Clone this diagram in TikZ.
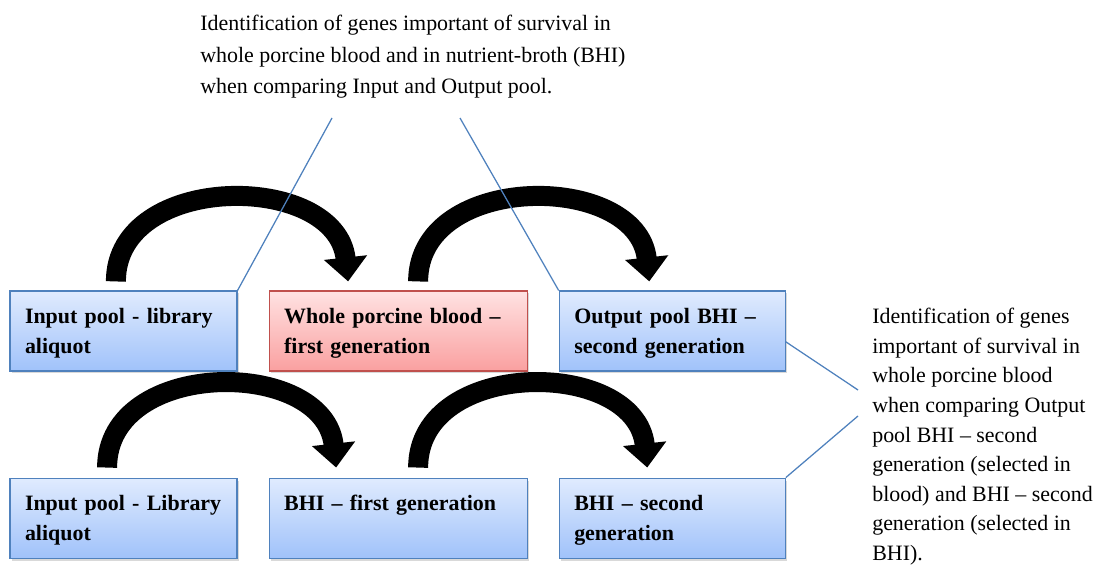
\documentclass[tikz,border=0pt]{standalone}
\usepackage{fontspec}
\setmainfont{Liberation Serif}
\usetikzlibrary{arrows.meta, positioning, shadows}
\definecolor{boxline}{RGB}{79,129,189}
\definecolor{boxtop}{RGB}{224,235,254}
\definecolor{boxbot}{RGB}{160,194,250}
\definecolor{redline}{RGB}{192,80,77}
\definecolor{redtop}{RGB}{255,226,226}
\definecolor{redbot}{RGB}{250,160,160}
\definecolor{callout}{RGB}{79,129,189}
\newcommand{\celltext}[1]{\vbox to 1.15cm{#1\vfill}}
\tikzset{
  stagebox/.style={rectangle, draw=boxline, top color=boxtop, bottom color=boxbot,
    line width=0.8pt, inner xsep=0.375cm, inner ysep=0.425cm,
    text width=4.925cm, align=left,
    font=\fontsize{15.6pt}{21.3pt}\selectfont\bfseries,
    drop shadow={shadow xshift=0.04cm, shadow yshift=-0.06cm, opacity=0.3}},
  redbox/.style={stagebox, draw=redline, top color=redtop, bottom color=redbot,
    text width=5.7cm},
  bigarrow/.style={line width=0.5cm, -{Triangle[width=1.05cm, length=0.6cm]}},
  callline/.style={draw=callout, line width=0.9pt},
  note/.style={inner sep=0pt, align=left, anchor=north west}
}
\begin{document}
\begin{tikzpicture}
  \useasboundingbox (0,0) rectangle (27.875,-14.175);

  % stages
  \node[stagebox] (inpool) at (3.0875,-8.275) {\celltext{Input pool - library\\aliquot}};
  \node[redbox, right=0.775cm of inpool] (blood) {\celltext{Whole porcine blood --\\first generation}};
  \node[stagebox, text width=4.9cm, right=0.775cm of blood] (outpool) {\celltext{Output pool BHI --\\second generation}};
  \node[stagebox, below=2.65cm of inpool] (libpool) {\celltext{Input pool - Library\\aliquot}};
  \node[stagebox, text width=5.7cm, below=2.65cm of blood] (bhione) {\celltext{BHI -- first generation}};
  \node[stagebox, text width=4.9cm, below=2.65cm of outpool] (bhitwo) {\celltext{BHI -- second\\generation}};

  % passages
  \draw[bigarrow] ([shift={(-0.19,0.225)}]inpool.north) .. controls +(0,2.75) and +(-0.3,2.75) .. ([shift={(-1.25,0.225)}]blood.north);
  \draw[bigarrow] ([shift={(0.5,0.225)}]blood.north) .. controls +(0,2.75) and +(-0.3,2.75) .. ([shift={(-0.575,0.225)}]outpool.north);
  \draw[bigarrow] ([shift={(-0.41,0.25)}]libpool.north) .. controls +(0,2.75) and +(-0.3,2.75) .. ([shift={(-1.55,0.25)}]bhione.north);
  \draw[bigarrow] ([shift={(0.5,0.25)}]bhione.north) .. controls +(0,2.75) and +(-0.3,2.75) .. ([shift={(-0.625,0.25)}]bhitwo.north);

  % notes
  \node[note, font=\fontsize{15.6pt}{22.4pt}\selectfont] (topnote) at (5,-0.375)
    {Identification of genes important of survival in\\whole porcine blood and in nutrient-broth (BHI)\\when comparing Input and Output pool.};
  \node[note, font=\fontsize{15.6pt}{21.05pt}\selectfont] (sidenote) at (21.8,-7.7)
    {Identification of genes\\important of survival in\\whole porcine blood\\when comparing Output\\pool BHI -- second\\generation (selected in\\blood) and BHI -- second\\generation (selected in\\BHI).};

  \coordinate (topleftend) at (8.3,-2.95);
  \coordinate (toprightend) at (11.5,-2.95);
  \coordinate (sideupend) at (21.45,-9.75);
  \coordinate (sidelowend) at (21.45,-10.4);
  \draw[callline] (topleftend) -- (inpool.north east);
  \draw[callline] (toprightend) -- (outpool.north west);
  \draw[callline] ([yshift=-0.27cm]outpool.east) -- (sideupend);
  \draw[callline] (bhitwo.north east) -- (sidelowend);
\end{tikzpicture}
\end{document}
